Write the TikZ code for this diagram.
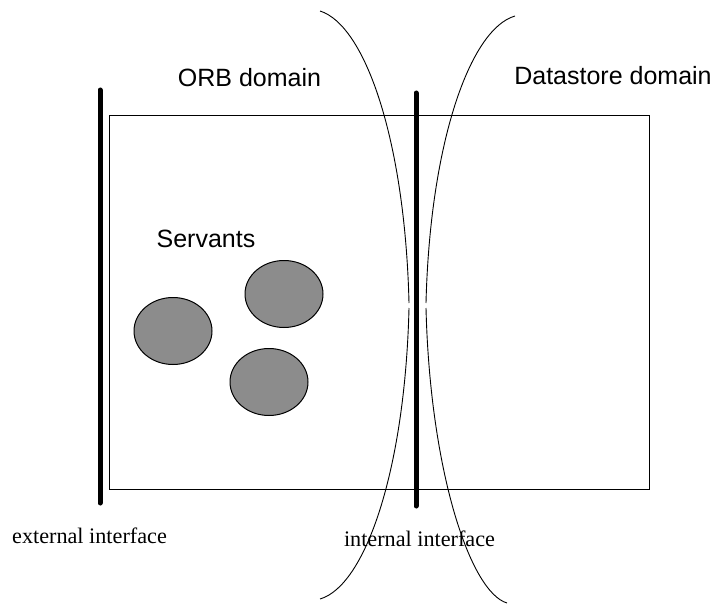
\documentclass[tikz,border=0pt]{standalone}
\usepackage{fontspec}
\setmainfont{Liberation Serif}
\setsansfont{Liberation Sans}
\usetikzlibrary{shapes}
\usetikzlibrary{shapes.geometric}
\tikzstyle{servant}=[ellipse, draw=black, line width=1pt, fill=servantgray, minimum width=78pt, minimum height=67pt, inner sep=0pt]
\tikzstyle{domainlabel}=[anchor=base, inner sep=0pt, font=\sffamily\fontsize{25}{30}\selectfont]
\tikzstyle{ifacelabel}=[anchor=base, inner sep=0pt, font=\rmfamily\fontsize{22.2}{26}\selectfont]
\tikzstyle{interface}=[line width=5pt, line cap=round]

\begin{document}
\begin{tikzpicture}[x=1pt, y=-1pt]

\definecolor{servantgray}{HTML}{8C8C8C}
\useasboundingbox (0,0) rectangle (717,604);

%% the box
\draw[line width=1pt] (109,116) rectangle (649,489);

%% interfaces
\draw[interface] (100,90) -- (100,503);
\draw[interface] (416,93) -- (416,506);

%% the two domain borders
\draw[line width=0.9pt] (320,11) .. controls (365,25) and (405,140) .. (409,303);
\draw[line width=0.9pt] (409,308) .. controls (405,471) and (365,586) .. (320,599);
\draw[line width=0.9pt] (515,16) .. controls (470,29) and (430,143) .. (426,303);
\draw[line width=0.9pt] (426,308) .. controls (430,470) and (470,592) .. (507,603);

%% servants
\node[servant] (servantA) at (173,331) {};
\node[servant] (servantB) at (284,294) {};
\node[servant] (servantC) at (269,382) {};

%% labels
\node[domainlabel] (orb) at (249.5,87) {ORB domain};
\node[domainlabel] (datastore) at (613,85) {Datastore domain};
\node[domainlabel] (servants) at (206,247) {Servants};
\node[ifacelabel] (external) at (89.5,543) {external interface};
\node[ifacelabel] (internal) at (419.5,546) {internal interface};

\end{tikzpicture}
\end{document}
